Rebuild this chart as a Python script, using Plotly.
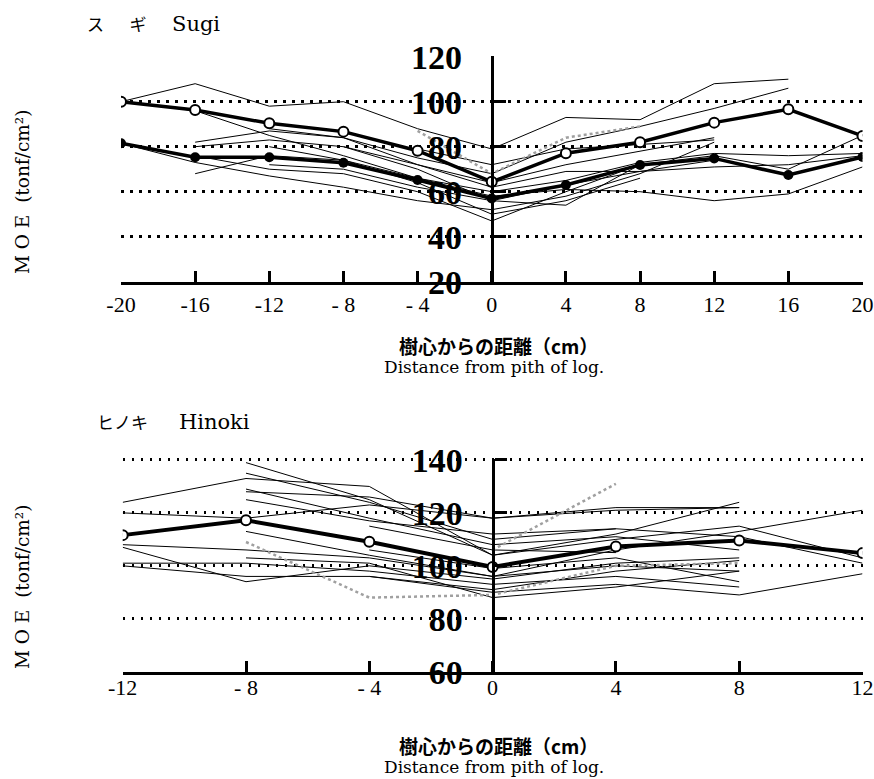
import plotly.graph_objects as go

N = None

# ---------------- Data: Sugi (top) ----------------
sugi_x = [-20, -16, -12, -8, -4, 0, 4, 8, 12, 16, 20]
sugi_xticktext = ["-20", "-16", "-12", "- 8", "- 4", "0", "4", "8", "12", "16", "20"]
sugi_yticks = [20, 40, 60, 80, 100, 120]
sugi_mean_open = [100, 96.3, 90.4, 86.7, 78.2, 64.4, 77.1, 82.0, 90.7, 96.6, 84.8]
sugi_mean_filled = [81.5, 75.3, 75.3, 72.9, 65.2, 57.0, 63.0, 71.9, 74.8, 67.4, 75.4]
sugi_s1 = [100, 108, 98, 100, 88, 79, 93, 92, 108, 110, N]
sugi_s2 = [N, 82, 87, 84, 75, 68, 82, 89, 97, 106, N]
sugi_s3 = [81.5, 73, 67, 62, 56, 52, 58, 68, 82, N, N]
sugi_s4 = [N, 80, 83, 80, 72, 62, 69, 69, 71, 72, 76]
sugi_s5 = [N, 68, 76, 74, 66, 58, 61, 60, 56, 59, 71]
sugi_s6 = [N, N, 72, 70, 62, 56, 54, 72, 76, 70, 85]
sugi_s7 = [100, 96, 85, 76, 66, 60, 65, 73, 77, 76, 77]
sugi_s8 = [N, 76, 70, 68, 60, 47, 60, 72, N, N, N]
sugi_s9 = [N, N, 88, 84, 72, 64, 72, 78, 84, N, N]
sugi_s10 = [N, N, N, 80, 70, 56, 63, 69, 74, N, N]
sugi_s11 = [N, N, N, N, 79, 72, 79, 81, 83, N, N]
sugi_s12 = [N, N, 80, 74, 64, 50, 56, 66, N, N, N]
sugi_gray = [N, N, N, N, 87, 68, 84, 89, N, N, N]

# ---------------- Data: Hinoki (bottom) ----------------
hinoki_x = [-12, -8, -4, 0, 4, 8, 12]
hinoki_xticktext = ["-12", "- 8", "- 4", "0", "4", "8", "12"]
hinoki_yticks = [60, 80, 100, 120, 140]
hinoki_mean = [111.6, 117.2, 109.1, 99.6, 107.3, 109.6, 104.8]
hinoki_h1 = [124, 133, 130, 104, 110, 115, 103]
hinoki_h2 = [120, 118, 123, 118, 121, 122, N]
hinoki_h3 = [108, 106, 103, 96, 106, 113, 121]
hinoki_h4 = [107, 94, 100, 95, 101, 103, N]
hinoki_h5 = [101, 101, 98, 93, 96, 92, N]
hinoki_h6 = [N, 139, 125, 104, 112, 124, N]
hinoki_h7 = [N, 135, 124, 110, 114, 111, 101]
hinoki_h8 = [N, 128, 126, 118, 122, 122, N]
hinoki_h9 = [N, 113, 104, 96, 100, 98, N]
hinoki_h10 = [N, 129, 118, 108, 111, 106, N]
hinoki_h11 = [N, 125, 117, 112, 114, N, N]
hinoki_h12 = [N, N, 115, 106, 105, N, N]
hinoki_h13 = [100, 96, 96, 90, 93, 89, 97]
hinoki_h14 = [N, 103, 101, 88, 92, 98, N]
hinoki_h15 = [N, N, 106, 99, 103, 94, N]
hinoki_h16 = [N, N, 96, 91, 98, 102, N]
hinoki_gray1 = [N, 109, 88, 89, 100, 101, N]
hinoki_gray2 = [N, N, N, 106, 131, N, N]

sugi_thin = [sugi_s1, sugi_s2, sugi_s3, sugi_s4, sugi_s5, sugi_s6, sugi_s7,
             sugi_s8, sugi_s9, sugi_s10, sugi_s11, sugi_s12]
hinoki_thin = [hinoki_h1, hinoki_h2, hinoki_h3, hinoki_h4, hinoki_h5, hinoki_h6,
               hinoki_h7, hinoki_h8, hinoki_h9, hinoki_h10, hinoki_h11, hinoki_h12,
               hinoki_h13, hinoki_h14, hinoki_h15, hinoki_h16]

W, H = 874, 779
def py(p):
    return 1 - p / H

fig = go.Figure()

def add_thin(xs, ys, xa, ya):
    fig.add_trace(go.Scatter(x=xs, y=ys, mode="lines", xaxis=xa, yaxis=ya,
                             line=dict(color="black", width=1), connectgaps=False,
                             showlegend=False, hoverinfo="skip"))

def add_gray(xs, ys, xa, ya):
    fig.add_trace(go.Scatter(x=xs, y=ys, mode="lines", xaxis=xa, yaxis=ya,
                             line=dict(color="#a0a0a0", width=2.5, dash="dot"),
                             showlegend=False, hoverinfo="skip"))

for s in sugi_thin:
    add_thin(sugi_x, s, "x", "y")
add_gray(sugi_x, sugi_gray, "x", "y")
fig.add_trace(go.Scatter(x=sugi_x, y=sugi_mean_filled, mode="lines+markers", xaxis="x", yaxis="y",
                         line=dict(color="black", width=3.5),
                         marker=dict(symbol="circle", size=10, color="black"),
                         showlegend=False))
fig.add_trace(go.Scatter(x=sugi_x, y=sugi_mean_open, mode="lines+markers", xaxis="x", yaxis="y",
                         line=dict(color="black", width=3.5),
                         marker=dict(symbol="circle", size=10, color="white",
                                     line=dict(color="black", width=2)),
                         showlegend=False))

for s in hinoki_thin:
    add_thin(hinoki_x, s, "x2", "y2")
add_gray(hinoki_x, hinoki_gray1, "x2", "y2")
add_gray(hinoki_x, hinoki_gray2, "x2", "y2")
fig.add_trace(go.Scatter(x=hinoki_x, y=hinoki_mean, mode="lines+markers", xaxis="x2", yaxis="y2",
                         line=dict(color="black", width=4),
                         marker=dict(symbol="circle", size=10, color="white",
                                     line=dict(color="black", width=2)),
                         showlegend=False))

top_dom = [121 / W, 862.5 / W]
bot_dom = [122.7 / W, 862.5 / W]

tickfont_y = dict(family="Liberation Serif", size=34, color="black", weight="bold")
tickfont_x = dict(family="Liberation Serif", size=22, color="black")
grid = dict(showgrid=True, gridcolor="black", gridwidth=2.5, griddash="2.5px,6.5px")

fig.update_layout(
    width=W, height=H, autosize=False,
    margin=dict(l=0, r=0, t=0, b=0, pad=0, autoexpand=False),
    paper_bgcolor="white", plot_bgcolor="white",
    xaxis=dict(domain=top_dom, range=[-20, 20], anchor="y", tickvals=sugi_x,
               ticktext=sugi_xticktext, ticks="inside", ticklen=11, tickwidth=3,
               tickcolor="black", showline=True, linewidth=3, linecolor="black",
               showgrid=False, zeroline=False, tickfont=tickfont_x, ticklabelstandoff=1,
               ticklabeloverflow="allow", automargin=False),
    yaxis=dict(domain=[py(281.7), py(55.8)], range=[20, 120.4], anchor="free",
               position=(top_dom[0] + top_dom[1]) / 2, tickvals=sugi_yticks,
               ticks="inside", ticklen=12, tickwidth=3, tickcolor="black",
               showline=True, linewidth=3, linecolor="black", zeroline=False,
               tickfont=tickfont_y, ticklabelstandoff=22, automargin=False, **grid),
    xaxis2=dict(domain=bot_dom, range=[-12, 12], anchor="y2", tickvals=hinoki_x,
                ticktext=hinoki_xticktext, ticks="inside", ticklen=11, tickwidth=3,
                tickcolor="black", showline=True, linewidth=3, linecolor="black",
                showgrid=False, zeroline=False, tickfont=tickfont_x, ticklabelstandoff=-6,
                ticklabeloverflow="allow", automargin=False),
    yaxis2=dict(domain=[py(671.7), py(458.9)], range=[60, 140.4], anchor="free",
                position=(bot_dom[0] + bot_dom[1]) / 2, tickvals=hinoki_yticks,
                ticks="inside", ticklen=12, tickwidth=3, tickcolor="black",
                showline=True, linewidth=3, linecolor="black", zeroline=False,
                tickfont=tickfont_y, ticklabelstandoff=22, automargin=False, **grid),
)

serif = "DejaVu Serif"
jp = "Noto Sans CJK JP"
title_font = dict(family=serif + ", " + jp, size=17)
ann = [
    dict(text="ス　\u2002ギ　\u2002<span style='font-size:21px'>Sugi</span>",
         x=85 / W, y=py(24), xanchor="left", yanchor="middle", font=dict(title_font)),
    dict(text="ヒノキ　\u2002 <span style='font-size:21px'>Hinoki</span>",
         x=95 / W, y=py(422), xanchor="left", yanchor="middle", font=dict(title_font)),
    dict(text="<b>樹心からの距離（cm）</b>", x=498 / W, y=py(345), xanchor="center", yanchor="middle",
         font=dict(family=jp, size=19)),
    dict(text="Distance from pith of log.", x=494 / W, y=py(367), xanchor="center", yanchor="middle",
         font=dict(family=serif, size=17)),
    dict(text="<b>樹心からの距離（cm）</b>", x=498 / W, y=py(745), xanchor="center", yanchor="middle",
         font=dict(family=jp, size=19)),
    dict(text="Distance from pith of log.", x=494 / W, y=py(767), xanchor="center", yanchor="middle",
         font=dict(family=serif, size=17)),
    dict(text="M O E  (tonf/cm²)", x=22 / W, y=py(192), xanchor="center", yanchor="middle",
         textangle=-90, font=dict(family=serif, size=18.5)),
    dict(text="M O E  (tonf/cm²)", x=22 / W, y=py(587), xanchor="center", yanchor="middle",
         textangle=-90, font=dict(family=serif, size=18.5)),
]
for a in ann:
    a.update(xref="paper", yref="paper", showarrow=False)
    a["font"].setdefault("color", "black")
fig.update_layout(annotations=ann)

fig.write_html("out.html", config={"displayModeBar": False},
               post_script="document.body.style.margin='0px';document.body.style.overflow='hidden';")
